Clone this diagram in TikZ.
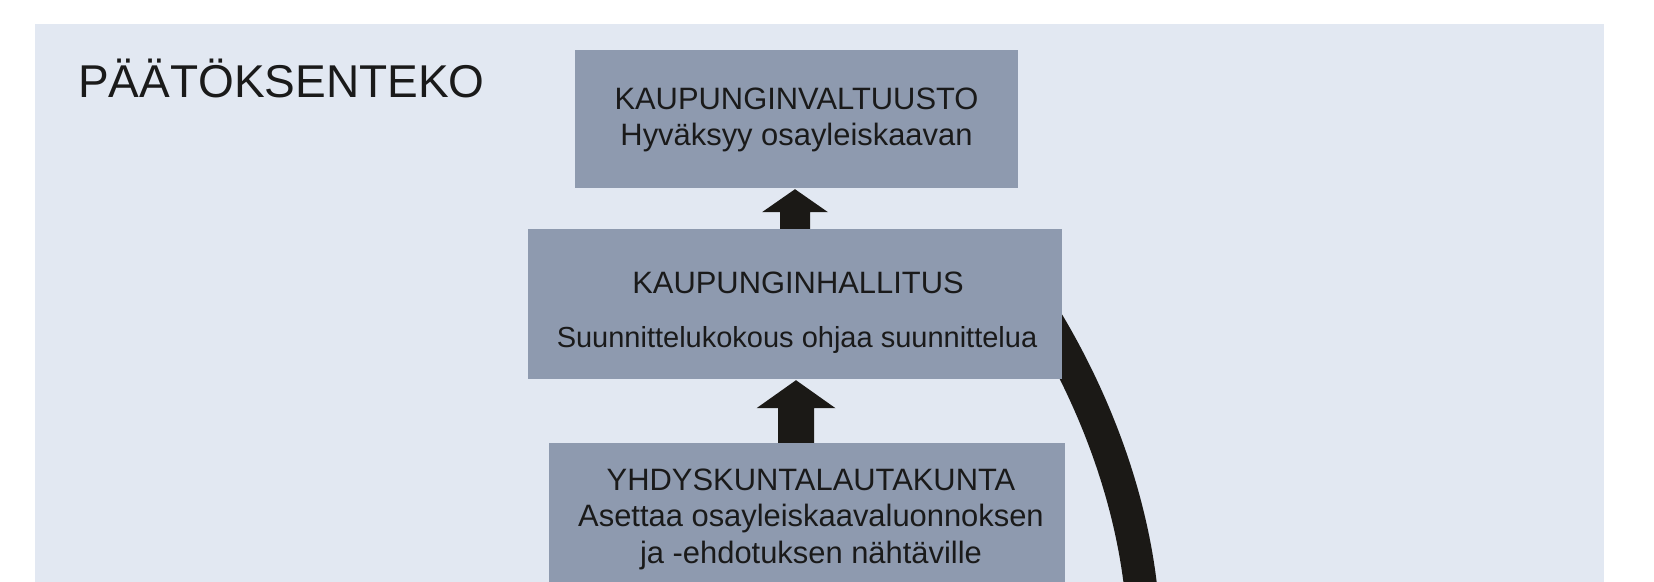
\documentclass[tikz,border=0pt]{standalone}
\usepackage{fontspec}
\setmainfont{Liberation Sans}
\usetikzlibrary{calc}
\definecolor{bgc}{HTML}{E2E8F2}
\definecolor{boxc}{HTML}{8E9AAF}
\definecolor{arrowc}{HTML}{1B1916}
\definecolor{txtc}{HTML}{1A1A1A}
\tikzset{
  orgbox/.style={fill=boxc, draw=none, inner sep=0pt, rectangle},
  boxtxt/.style={text=txtc, inner sep=0pt, anchor=base, font=\fontsize{30.9}{36}\selectfont},
  smalltxt/.style={boxtxt, font=\fontsize{29}{34}\selectfont},
  titletxt/.style={text=txtc, inner sep=0pt, anchor=base west, font=\fontsize{46}{54}\selectfont},
  bigcurve/.style={draw=arrowc, line width=33pt},
}
\newcommand\blockarrow[5]{%
  \fill[arrowc] let \p1=(#1), \p2=(#2) in
    (\x1,\y1) -- (\x1+#3,\y1-#4) -- (\x1+#5,\y1-#4) -- (\x1+#5,\y2-6pt)
    -- (\x1-#5,\y2-6pt) -- (\x1-#5,\y1-#4) -- (\x1-#3,\y1-#4) -- cycle;}
\begin{document}
\begin{tikzpicture}[x=1pt,y=-1pt]
\useasboundingbox (0,0) rectangle (1654,581);
\clip (0,0) rectangle (1654,581);
\fill[white] (0,0) rectangle (1654,581);
\fill[bgc] (35,24) rectangle (1604,600);

% box geometry (named nodes, empty)
\path (796.5,119) node[orgbox, minimum width=443pt, minimum height=138pt] (valt) {};
\path (795,304) node[orgbox, minimum width=534pt, minimum height=150pt] (hall) {};
\path (807,532) node[orgbox, minimum width=516pt, minimum height=178pt] (yhd) {};

% connectors drawn under the boxes
\coordinate (tip1) at ([xshift=-1.5pt,yshift=-1pt]valt.south);
\coordinate (tip2) at ([xshift=1pt,yshift=-1pt]hall.south);
\coordinate (cend) at (1142,600);
\blockarrow{tip1}{hall.north}{33pt}{23pt}{15pt}
\blockarrow{tip2}{yhd.north}{39.5pt}{28pt}{18pt}
\draw[bigcurve] ([xshift=-42pt,yshift=24pt]hall.east) .. controls (1072,354) and (1130,470) .. (cend);

% boxes redrawn on top
\fill[boxc] (valt.south west) rectangle (valt.north east);
\fill[boxc] (hall.south west) rectangle (hall.north east);
\fill[boxc] (yhd.south west) rectangle (yhd.north east);

% texts
\node[titletxt] (title) at (78,97) {PÄÄTÖKSENTEKO};
\node[boxtxt] (valt1) at (796.5,109) {KAUPUNGINVALTUUSTO};
\node[boxtxt] (valt2) at (796.5,145) {Hyväksyy osayleiskaavan};
\node[boxtxt] (hall1) at (798,293) {KAUPUNGINHALLITUS};
\node[smalltxt] (hall2) at (797,347) {Suunnittelukokous ohjaa suunnittelua};
\node[boxtxt] (yhd1) at (811,490) {YHDYSKUNTALAUTAKUNTA};
\node[boxtxt] (yhd2) at (811,526) {Asettaa osayleiskaavaluonnoksen};
\node[boxtxt] (yhd3) at (811,563) {ja -ehdotuksen nähtäville};
\end{tikzpicture}
\end{document}
